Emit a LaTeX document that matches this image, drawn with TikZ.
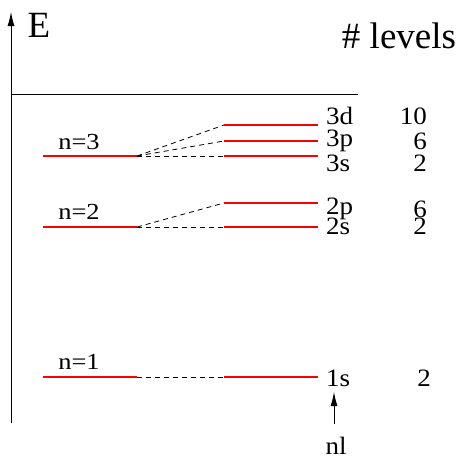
\documentclass[tikz,border=0pt]{standalone}
\usepackage{fontspec}
\setmainfont{Liberation Serif}
\newfontfamily\widefont[FakeStretch=1.15]{Liberation Serif}
\newfontfamily\midfont[FakeStretch=1.08]{Liberation Serif}
\usetikzlibrary{arrows.meta}
\begin{document}
\begin{tikzpicture}[x=1pt,y=-1pt,
  lvl/.style={red, line width=1.3pt},
  split/.style={dashed, dash pattern=on 5pt off 4pt, line width=0.8pt},
  axis/.style={line width=0.9pt},
  tip/.style={-{Latex[length=14pt,width=7pt]}},
  big/.style={font=\fontsize{37}{37}\selectfont, inner sep=0pt},
  lab/.style={font=\midfont\fontsize{25}{25}\selectfont, inner sep=0pt},
  nlab/.style={font=\widefont\fontsize{23}{23}\selectfont, inner sep=0pt}]
\useasboundingbox (0,0) rectangle (460,456);
% axis
\coordinate (ab) at (11,423);
\coordinate (at) at (11,12);
\draw[axis,tip] (ab) -- (at);
\coordinate (hl) at (11,94);
\coordinate (hr) at (358,94);
\draw[axis] (hl) -- (hr);
\node[big] (E) at (39,25) {E};
\node[big] (lev) at (399,36) {\# levels};
% left levels
\foreach \n/\y in {3/156,2/227,1/377}{
  \coordinate (L\n a) at (43,\y);
  \coordinate (L\n b) at (137,\y);
  \draw[lvl] (L\n a) -- (L\n b);
}
\node[nlab] (n3) at (79,142) {n=3};
\node[nlab] (n2) at (79,212) {n=2};
\node[nlab] (n1) at (79,362) {n=1};
% right levels
\foreach \s/\y in {3d/125,3p/141,3s/156,2p/203,2s/227,1s/377}{
  \coordinate (R\s a) at (224,\y);
  \coordinate (R\s b) at (318,\y);
  \draw[lvl] (R\s a) -- (R\s b);
}
% splitting lines
\draw[split] (L3b) -- (R3da);
\draw[split] (L3b) -- (R3pa);
\draw[split] (L3b) -- (R3sa);
\draw[split] (L2b) -- (R2pa);
\draw[split] (L2b) -- (R2sa);
\draw[split] (L1b) -- (R1sa);
% labels
\node[lab,anchor=west] (t3d) at (326,116) {3d};
\node[lab,anchor=west] (t3p) at (326,141) {3p};
\node[lab,anchor=west] (t3s) at (326,163) {3s};
\node[lab,anchor=west] (t2p) at (326,209) {2p};
\node[lab,anchor=west] (t2s) at (326,226) {2s};
\node[lab,anchor=west] (t1s) at (326,378) {1s};
\node[lab,anchor=east] (c3d) at (427,116) {10};
\node[lab,anchor=east] (c3p) at (427,141) {6};
\node[lab,anchor=east] (c3s) at (427,163) {2};
\node[lab,anchor=east] (c2p) at (427,209) {6};
\node[lab,anchor=east] (c2s) at (427,226) {2};
\node[lab] (c1s) at (424,378) {2};
\node[lab] (nl) at (336,446) {nl};
\coordinate (arb) at (334,424);
\coordinate (art) at (334,392);
\draw[axis,tip] (arb) -- (art);
\end{tikzpicture}
\end{document}
